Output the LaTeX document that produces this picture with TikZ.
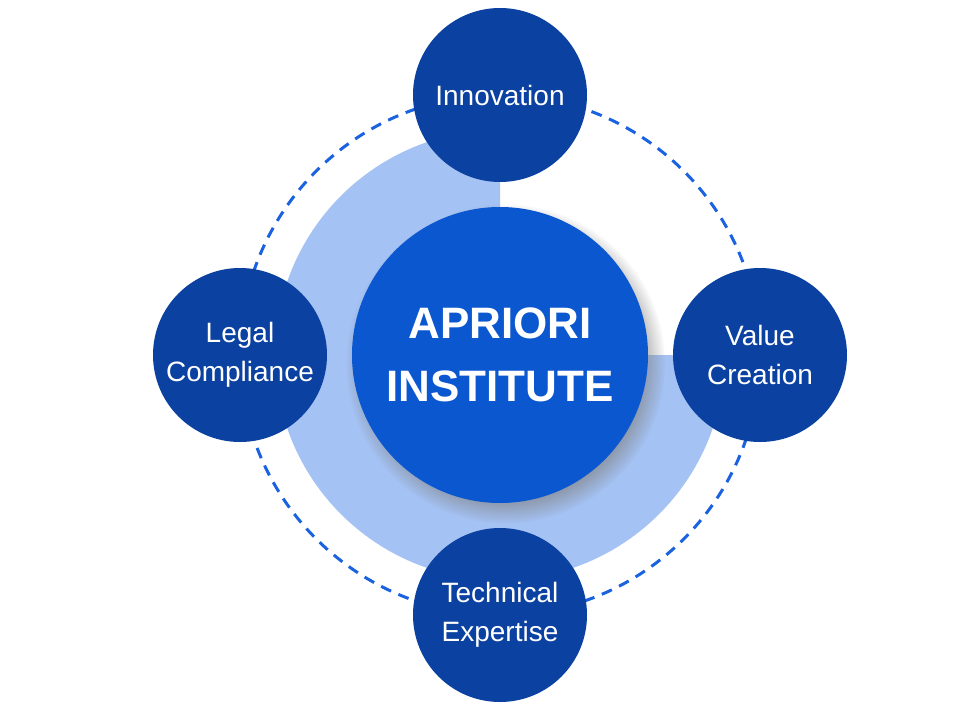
\documentclass[tikz,border=0pt]{standalone}
\usepackage{fontspec}
\setmainfont{Liberation Sans}
\usetikzlibrary{shadows}

\definecolor{hubblue}{RGB}{11,87,208}
\definecolor{spokeblue}{RGB}{11,65,160}
\definecolor{paleblue}{RGB}{164,194,244}
\definecolor{ringblue}{RGB}{26,98,224}

\begin{document}
\begin{tikzpicture}[
 x=1pt,y=1pt,
 align=center,
 inner sep=0pt,
 hub/.style={circle,fill=hubblue,text=white,minimum size=296pt,
   font=\fontsize{44}{63}\selectfont\bfseries,
   circular drop shadow={shadow xshift=5pt,shadow yshift=-8pt,shadow scale=1.08,opacity=0.65}},
 spoke/.style={circle,fill=spokeblue,text=white,minimum size=174pt,
   font=\fontsize{28}{39}\selectfont},
 ring/.style={draw=ringblue,line width=3pt,dash pattern=on 11pt off 8pt}
]
\useasboundingbox (-500,-365) rectangle (460,355);
% pale three-quarter disc behind the hub
\fill [paleblue] (0,0) -- (0,225) arc[start angle=90,end angle=360,radius=225] -- cycle;
\draw [ring] (0,0) circle (260);
\node (apriori) [hub] at (0,0) {APRIORI\\INSTITUTE};
\node (innovation) [spoke] at (0,260) {Innovation};
\node (value-creation) [spoke] at (260,0) {Value\\Creation};
\node (technical-expertise) [spoke] at (0,-260) {Technical\\Expertise};
\node (legal-compliance) [spoke] at (-260,0) {Legal\\Compliance};
\end{tikzpicture}
\end{document}
